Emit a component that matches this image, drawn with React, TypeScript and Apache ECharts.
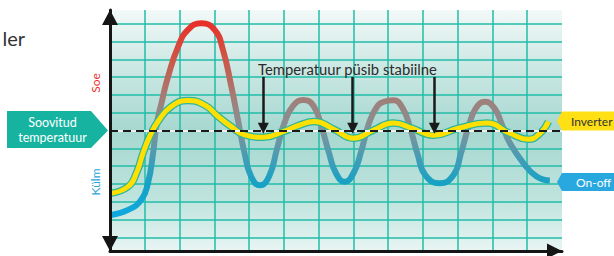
import React, { useEffect, useRef } from 'react';
import * as echarts from 'echarts';

// x: time in grid columns (0..13); y: temperature deviation from the set point, in grid rows
const onOffX = [0, 0.52, 0.90, 1.09, 1.24, 1.33, 1.48, 1.67, 1.96, 2.24, 2.63, 3.01, 3.25, 3.49, 3.68, 3.87, 4.06, 4.31, 4.58, 4.80, 5.02, 5.27, 5.56, 5.85, 6.07, 6.29, 6.50, 6.75, 7.00, 7.22, 7.43, 7.65, 7.88, 8.15, 8.42, 8.64, 8.85, 9.07, 9.48, 9.88, 10.09, 10.31, 10.52, 10.79, 11.06, 11.27, 11.50, 11.89, 12.27, 12.65];
const onOffY = [-4.76, -4.46, -3.89, -2.96, -1.27, 0.22, 1.54, 3.03, 4.72, 5.66, 6.03, 5.66, 4.53, 2.47, 0.60, -1.27, -2.58, -3.08, -2.55, -1.05, 0.45, 1.40, 1.72, 1.40, 0.30, -1.20, -2.40, -2.88, -2.40, -1.20, 0.30, 1.25, 1.62, 1.70, 1.25, 0.10, -1.35, -2.50, -2.96, -2.50, -1.30, 0.20, 1.25, 1.62, 1.25, 0.35, -0.70, -1.83, -2.58, -2.81];

const inverterX = [0, 0.52, 0.76, 0.95, 1.14, 1.38, 1.76, 2.24, 2.72, 3.11, 3.49, 3.87, 4.41, 4.98, 5.47, 5.87, 6.45, 7.00, 7.57, 8.15, 8.70, 9.30, 10.02, 10.83, 11.50, 12.03, 12.37, 12.61];
const inverterY = [-3.53, -3.15, -2.39, -1.27, -0.34, 0.51, 1.35, 1.69, 1.44, 0.79, 0.22, -0.24, -0.37, -0.06, 0.32, 0.51, 0.06, -0.43, 0.02, 0.43, 0.12, -0.26, 0.13, 0.42, -0.15, -0.49, -0.15, 0.51];

const gridColumns = [1, 2, 3, 4, 5, 6, 7, 8, 9, 10, 11, 12];
const gridRows = [-6, -5, -4, -3, -2, -1, 1, 2, 3, 4, 5, 6];
const setPoint = 0;
const stableMarksX = [4.41, 6.98, 9.33];
const stableArrowTop = 3.02;
const stableArrowTip = 0.13;
const xMin = 0;
const xMax = 13;
const yMin = -6.77;
const yMax = 6.78;

const titleFragment = 'ler';
const hotLabel = 'Soe';
const coldLabel = 'Külm';
const setPointLabel = ['Soovitud', 'temperatuur'];
const stableLabel = 'Temperatuur püsib stabiilne';
const inverterLabel = 'Inverter';
const onOffLabel = 'On-off';

const FONT = 'Lato';

function txt(text: string, x: number, y: number, size: number, fill: string, align = 'center', rotation = 0) {
  return {
    type: 'text',
    x,
    y,
    rotation,
    z: 100,
    silent: true,
    style: {
      text,
      fill,
      fontSize: size,
      fontFamily: FONT,
      textAlign: align,
      textVerticalAlign: 'middle',
      align,
      verticalAlign: 'middle',
    },
  };
}

export default function App() {
  const ref = useRef<HTMLDivElement>(null);

  useEffect(() => {
    if (!ref.current) return;
    const chart = echarts.init(ref.current, undefined, { renderer: 'svg' });

    const onOffData = onOffX.map((x, i) => [x, onOffY[i]]);
    const inverterData = inverterX.map((x, i) => [x, inverterY[i]]);

    const noLabel = { show: false };
    const smoothing = { smooth: 0.5 };

    const option: any = {
      animation: false,
      backgroundColor: '#ffffff',
      grid: {
        left: 110,
        right: 52,
        top: 10,
        bottom: 5,
        show: true,
        borderWidth: 0,
        backgroundColor: new echarts.graphic.LinearGradient(0, 0, 0, 1, [
          { offset: 0, color: '#f2f9f8' },
          { offset: 0.22, color: '#cfe9e5' },
          { offset: 0.5, color: '#a6d8d0' },
          { offset: 0.78, color: '#bee3dd' },
          { offset: 1, color: '#e8f5f3' },
        ]),
      },
      xAxis: {
        type: 'value',
        min: xMin,
        max: xMax,
        z: 10,
        axisLine: {
          show: true,
          onZero: false,
          symbol: ['none', 'triangle'],
          symbolSize: [15, 15],
          symbolOffset: [0, -7.5],
          lineStyle: { color: '#151515', width: 3 },
        },
        axisTick: { show: false },
        axisLabel: { show: false },
        splitLine: { show: false },
      },
      yAxis: {
        type: 'value',
        min: yMin,
        max: yMax,
        z: 10,
        axisLine: {
          show: true,
          onZero: false,
          symbol: ['triangle', 'triangle'],
          symbolSize: [16, 15],
          symbolOffset: [7.5, -7.5],
          lineStyle: { color: '#151515', width: 3 },
        },
        axisTick: { show: false },
        axisLabel: { show: false },
        splitLine: { show: false },
      },
      series: [
        {
          name: 'grid',
          type: 'line',
          data: [],
          silent: true,
          markLine: {
            silent: true,
            z: 1,
            symbol: ['none', 'none'],
            label: noLabel,
            emphasis: { disabled: true },
            lineStyle: { color: '#22bca9', width: 1.5, type: 'solid' },
            data: [
              ...gridRows.map((v) => ({ yAxis: v })),
              ...gridColumns.map((v) => ({ xAxis: v })),
            ],
          },
        },
        {
          name: onOffLabel,
          type: 'line',
          data: onOffData,
          ...smoothing,
          showSymbol: false,
          silent: true,
          z: 2,
          lineStyle: {
            width: 6,
            color: new echarts.graphic.LinearGradient(0, 22, 0, 216, [
              { offset: 0, color: '#e8302a' },
              { offset: 0.18, color: '#cf5445' },
              { offset: 0.4, color: '#a17f79' },
              { offset: 0.56, color: '#80939a' },
              { offset: 0.72, color: '#3e9db8' },
              { offset: 0.84, color: '#14a2c6' },
              { offset: 1, color: '#0fa8e0' },
            ], true),
          },
        },
        {
          name: 'inverter-edge',
          type: 'line',
          data: inverterData,
          ...smoothing,
          showSymbol: false,
          silent: true,
          z: 3,
          lineStyle: { width: 7.5, color: '#2fb69a' },
        },
        {
          name: inverterLabel,
          type: 'line',
          data: inverterData,
          ...smoothing,
          showSymbol: false,
          silent: true,
          z: 4,
          lineStyle: { width: 5, color: '#ffe000' },
        },
        {
          name: 'setpoint-base',
          type: 'line',
          data: [],
          silent: true,
          markLine: {
            silent: true,
            z: 5,
            symbol: ['none', 'none'],
            label: noLabel,
            emphasis: { disabled: true },
            lineStyle: { color: '#eef3f2', width: 2, type: 'solid' },
            data: [{ yAxis: setPoint }],
          },
        },
        {
          name: 'setpoint',
          type: 'line',
          data: [],
          silent: true,
          markLine: {
            silent: true,
            z: 6,
            symbol: ['none', 'none'],
            label: noLabel,
            emphasis: { disabled: true },
            lineStyle: { color: '#1a1a1a', width: 2, type: [8, 5] },
            data: [{ yAxis: setPoint }],
          },
        },
        {
          name: 'stable',
          type: 'line',
          data: [],
          silent: true,
          markLine: {
            silent: true,
            z: 7,
            symbol: ['none', 'triangle'],
            symbolSize: 11,
            label: noLabel,
            emphasis: { disabled: true },
            lineStyle: { color: '#1a1a1a', width: 2.5, type: 'solid' },
            data: stableMarksX.map((x) => [
              { coord: [x, stableArrowTop] },
              { coord: [x, stableArrowTip] },
            ]),
          },
        },
      ],
      graphic: [
        txt(titleFragment, 25, 38, 20, '#333333', 'right'),
        txt(hotLabel, 95, 83, 12, '#e8322c', 'center', Math.PI / 2),
        txt(coldLabel, 95, 182, 12, '#2aa5d8', 'center', Math.PI / 2),
        {
          type: 'polygon',
          z: 99,
          silent: true,
          shape: { points: [[7, 111], [91, 111], [108, 130.5], [91, 148], [7, 148]] },
          style: { fill: '#17b3a1' },
        },
        txt(setPointLabel[0], 52.5, 122.5, 12.5, '#ffffff'),
        txt(setPointLabel[1], 52.5, 137.5, 12.5, '#ffffff'),
        txt(stableLabel, 347.5, 68.5, 14.8, '#2b2b2b'),
        {
          type: 'polygon',
          z: 99,
          silent: true,
          shape: { points: [[557, 121], [562, 111.5], [614, 111.5], [614, 130.5], [562, 130.5]] },
          style: { fill: '#ffe014' },
        },
        txt(inverterLabel, 571, 121, 12, '#333333', 'left'),
        {
          type: 'polygon',
          z: 99,
          silent: true,
          shape: { points: [[557, 182], [562, 173], [614, 173], [614, 191], [562, 191]] },
          style: { fill: '#29a8e0' },
        },
        txt(onOffLabel, 576, 182, 12, '#ffffff', 'left'),
      ],
    };

    chart.setOption(option);
    return () => chart.dispose();
  }, []);

  return <div ref={ref} style={{ position: 'fixed', left: 0, top: 0, width: 614, height: 256 }} />;
}
